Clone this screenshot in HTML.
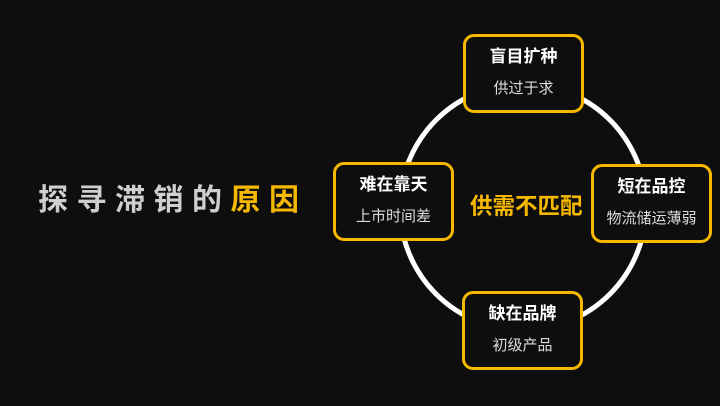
<!DOCTYPE html>
<html><head><meta charset="utf-8"><style>
body{margin:0;width:720px;height:406px;background:#0e0e0e;overflow:hidden;position:relative;font-family:"Liberation Sans","Noto Sans CJK SC",sans-serif}
.t{position:absolute;left:38px;top:183px;font-size:30px;font-weight:bold;color:#cfcfcf;letter-spacing:8.5px;white-space:nowrap;line-height:36px}
.t span{color:#f6b800}
.b{position:absolute;width:115px;height:73px;border:3px solid #f6b800;border-radius:11px;background:#0e0e0e;text-align:center;color:#fff;box-sizing:content-box}
.b .h{font-size:17px;font-weight:bold;margin-top:9px;line-height:22px}
.b .s{font-size:15px;color:#ddd;margin-top:11px;line-height:20px}
.c{position:absolute;left:470px;top:193px;font-size:22.5px;font-weight:bold;color:#f6b800;line-height:28px;white-space:nowrap}
</style></head><body>
<svg width="720" height="406" style="position:absolute;left:0;top:0"><circle cx="523" cy="207" r="123" fill="none" stroke="#fff" stroke-width="5"/></svg>
<div class="t">探寻滞销的<span>原因</span></div>
<div class="c">供需不匹配</div>
<div class="b" style="left:463px;top:34px"><div class="h">盲目扩种</div><div class="s">供过于求</div></div>
<div class="b" style="left:333px;top:162px"><div class="h">难在靠天</div><div class="s">上市时间差</div></div>
<div class="b" style="left:591px;top:164px"><div class="h">短在品控</div><div class="s">物流储运薄弱</div></div>
<div class="b" style="left:462px;top:291px"><div class="h">缺在品牌</div><div class="s">初级产品</div></div>
</body></html>
